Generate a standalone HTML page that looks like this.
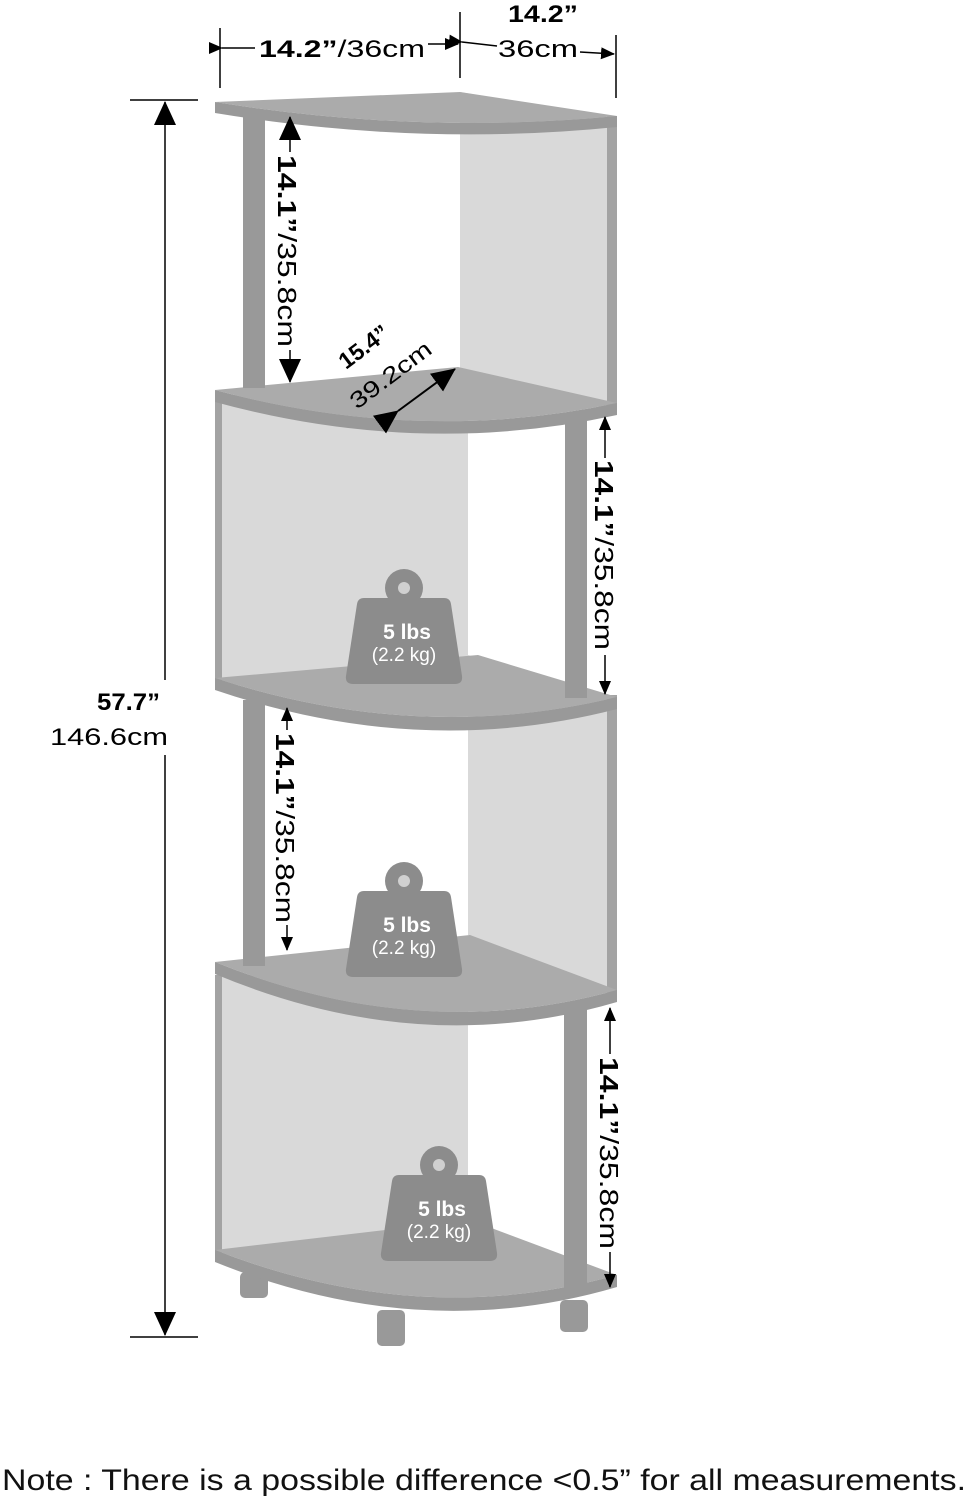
<!DOCTYPE html>
<html><head><meta charset="utf-8"><style>
html,body{margin:0;padding:0;background:#fff;}
svg{display:block;}
text{font-family:"Liberation Sans",sans-serif;}
</style></head><body>
<svg width="973" height="1500" viewBox="0 0 973 1500" xmlns="http://www.w3.org/2000/svg">
<defs>
<marker id="a" markerWidth="14" markerHeight="14" refX="13" refY="7" orient="auto" markerUnits="userSpaceOnUse"><path d="M0,1 L14,7 L0,13 z" fill="#000"/></marker>
<marker id="A" markerWidth="24" markerHeight="22" refX="23" refY="11" orient="auto" markerUnits="userSpaceOnUse"><path d="M0,0 L24,11 L0,22 z" fill="#000"/></marker>
</defs>
<!-- panels -->
<polygon points="460,92 610,118 610,410 460,368" fill="#d9d9d9"/>
<rect x="607" y="116" width="10" height="294" fill="#a3a3a3"/>
<rect x="215" y="395" width="253" height="290" fill="#d9d9d9"/>
<rect x="215" y="395" width="7" height="290" fill="#a3a3a3"/>
<polygon points="468,655 610,700 610,995 468,935" fill="#d9d9d9"/>
<rect x="607" y="695" width="10" height="300" fill="#a3a3a3"/>
<rect x="215" y="975" width="253" height="280" fill="#d9d9d9"/>
<rect x="215" y="975" width="7" height="280" fill="#a3a3a3"/>
<!-- feet -->
<rect x="240" y="1272" width="28" height="26" rx="5" fill="#999"/>
<rect x="377" y="1310" width="28" height="36" rx="5" fill="#999"/>
<rect x="560" y="1300" width="28" height="32" rx="5" fill="#999"/>
<!-- shelves -->
<g fill="#ababab" stroke="none">
<path d="M215,1250 L470,1220 L617,1275 Q420,1330 215,1250z"/>
<path d="M215,1250 Q420,1330 617,1275 L617,1287 Q420,1345 215,1262z" fill="#999"/>
<path d="M215,962 L470,935 L617,990 Q420,1045 215,962z"/>
<path d="M215,962 Q420,1045 617,990 L617,1002 Q420,1060 215,974z" fill="#999"/>
<path d="M215,678 L478,655 L617,697 Q420,745 215,678z"/>
<path d="M215,678 Q420,745 617,697 L617,709 Q420,760 215,690z" fill="#999"/>
<path d="M215,390 L458,367 L617,403 Q420,445 215,390z"/>
<path d="M215,390 Q420,445 617,403 L617,415 Q420,458 215,402z" fill="#999"/>
<path d="M215,102 L460,92 L617,116 Q420,135 215,102z"/>
<path d="M215,102 Q420,135 617,116 L617,127 Q420,147 215,113z" fill="#999"/>
</g>
<!-- posts -->
<rect x="243" y="113" width="22" height="275" fill="#999"/>
<rect x="565" y="418" width="22" height="280" fill="#999"/>
<rect x="243" y="700" width="22" height="266" fill="#999"/>
<rect x="564" y="1010" width="23" height="278" fill="#999"/>
<!-- weights -->
<g id="w">
<circle cx="404" cy="588" r="19" fill="#8c8c8c"/>
<circle cx="404" cy="588" r="6" fill="#d0d0d0"/>
<path d="M364,598 L444,598 Q450,598 451,604 L462,676 Q463,684 455,684 L353,684 Q345,684 346,676 L357,604 Q358,598 364,598z" fill="#8c8c8c"/>
<text x="407" y="639" font-size="21" font-weight="bold" fill="#fff" text-anchor="middle">5 lbs</text>
<text x="404" y="661" font-size="19" fill="#fff" text-anchor="middle">(2.2 kg)</text>
</g>
<use href="#w" transform="translate(0,293)"/>
<use href="#w" transform="translate(35,577)"/>
<!-- top dimension -->
<g stroke="#000" stroke-width="1.5">
<line x1="220" y1="28" x2="220" y2="88"/>
<line x1="460" y1="12" x2="460" y2="78"/>
<line x1="616" y1="35" x2="616" y2="98"/>
<line x1="222" y1="48" x2="255" y2="48" marker-start="url(#a)"/>
<line x1="428" y1="44" x2="458" y2="44" marker-end="url(#a)"/>
<line x1="462" y1="42" x2="497" y2="46" marker-start="url(#a)"/>
<line x1="580" y1="52" x2="614" y2="54" marker-end="url(#a)"/>
</g>
<text x="259" y="57" font-size="24" textLength="166" lengthAdjust="spacingAndGlyphs"><tspan font-weight="bold">14.2”</tspan>/36cm</text>
<text x="508" y="22" font-size="24" font-weight="bold" textLength="70" lengthAdjust="spacingAndGlyphs">14.2”</text>
<text x="498" y="57" font-size="24" textLength="80" lengthAdjust="spacingAndGlyphs">36cm</text>
<!-- height -->
<g stroke="#000" stroke-width="1.5">
<line x1="130" y1="100" x2="198" y2="100"/>
<line x1="130" y1="1337" x2="198" y2="1337"/>
<line x1="165" y1="680" x2="165" y2="102" marker-end="url(#A)"/>
<line x1="165" y1="755" x2="165" y2="1335" marker-end="url(#A)"/>
</g>
<text x="97" y="710" font-size="24" font-weight="bold" textLength="63" lengthAdjust="spacingAndGlyphs">57.7”</text>
<text x="50" y="745" font-size="24" textLength="118" lengthAdjust="spacingAndGlyphs">146.6cm</text>
<!-- vertical dims -->
<g stroke="#000" stroke-width="1.5">
<line x1="290" y1="152" x2="290" y2="117" marker-end="url(#A)"/>
<line x1="290" y1="350" x2="290" y2="382" marker-end="url(#A)"/>
<line x1="605" y1="458" x2="605" y2="417" marker-end="url(#a)"/>
<line x1="605" y1="655" x2="605" y2="694" marker-end="url(#a)"/>
<line x1="287" y1="730" x2="287" y2="708" marker-end="url(#a)"/>
<line x1="287" y1="925" x2="287" y2="950" marker-end="url(#a)"/>
<line x1="610" y1="1054" x2="610" y2="1008" marker-end="url(#a)"/>
<line x1="610" y1="1252" x2="610" y2="1287" marker-end="url(#a)"/>
</g>
<text transform="translate(278,155) rotate(90)" font-size="26" textLength="192" lengthAdjust="spacingAndGlyphs"><tspan font-weight="bold">14.1”</tspan>/35.8cm</text>
<text transform="translate(595,460) rotate(90)" font-size="26" textLength="190" lengthAdjust="spacingAndGlyphs"><tspan font-weight="bold">14.1”</tspan>/35.8cm</text>
<text transform="translate(276,733) rotate(90)" font-size="26" textLength="190" lengthAdjust="spacingAndGlyphs"><tspan font-weight="bold">14.1”</tspan>/35.8cm</text>
<text transform="translate(600,1057) rotate(90)" font-size="26" textLength="192" lengthAdjust="spacingAndGlyphs"><tspan font-weight="bold">14.1”</tspan>/35.8cm</text>
<!-- diagonal -->
<line x1="398" y1="411" x2="455" y2="369" stroke="#000" stroke-width="2" marker-start="url(#A)" marker-end="url(#A)"/>
<text transform="translate(346,370) rotate(-37)" font-size="23" font-weight="bold">15.4”</text>
<text transform="translate(357,410) rotate(-37)" font-size="23" textLength="96" lengthAdjust="spacingAndGlyphs">39.2cm</text>
<!-- note -->
<text x="2" y="1490" font-size="30" fill="#111" textLength="964" lengthAdjust="spacingAndGlyphs">Note : There is a possible difference &lt;0.5” for all measurements.</text>
</svg>
</body></html>
